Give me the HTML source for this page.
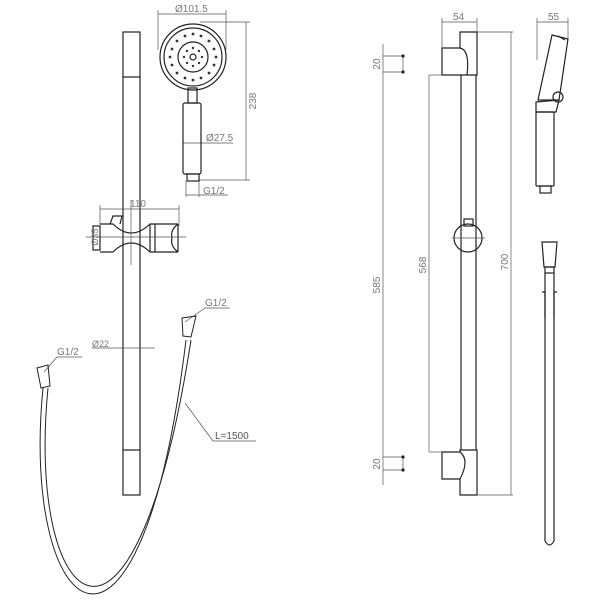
<!DOCTYPE html>
<html><head><style>html,body{margin:0;padding:0;background:#fff}svg{display:block}</style></head>
<body>
<svg width="600" height="600" viewBox="0 0 600 600" xmlns="http://www.w3.org/2000/svg" font-family="Liberation Sans, sans-serif">
<g fill="none" stroke="#222" stroke-width="1.2">
<rect x="123" y="32" width="17" height="45"/>
<line x1="123" y1="77" x2="123" y2="450"/><line x1="140" y1="77" x2="140" y2="450"/>
<rect x="123" y="450" width="17" height="45"/>
<rect x="93" y="226" width="7" height="24"/>
<path d="M100 224 H113 Q131 242 150 224 H178 M100 252 H113 Q131 234 150 252 H178"/>
<path d="M150 224 V252 M155 224 V252 M178 224 Q170 230 172 238 Q170 246 178 252 M178 224 V252"/>
<path d="M110 224 l3 -8 h9 l-2 8"/>
</g>
<g fill="none" stroke="#555" stroke-width="0.7">
<line x1="100" y1="209" x2="179" y2="209"/><line x1="100" y1="205" x2="100" y2="226"/><line x1="179" y1="205" x2="179" y2="226"/>
<line x1="86" y1="237" x2="186" y2="237"/>
<line x1="131" y1="200" x2="131" y2="265"/>
<line x1="92" y1="348" x2="155" y2="348"/>
<line x1="158" y1="14" x2="226" y2="14"/><line x1="158" y1="10" x2="158" y2="50"/><line x1="226" y1="10" x2="226" y2="50"/>
<line x1="200" y1="22" x2="250" y2="22"/><line x1="199" y1="180" x2="250" y2="180"/><line x1="246" y1="22" x2="246" y2="180"/>
<line x1="183" y1="143" x2="233" y2="143"/>
<line x1="186" y1="181" x2="186" y2="197"/><line x1="199" y1="181" x2="199" y2="197"/><line x1="186" y1="195" x2="228" y2="195"/>
<path d="M185 322 L205 308 H230"/><path d="M44 372 L57 357 H82"/><path d="M185 403 L213 441 H256"/>
</g>
<g fill="none" stroke="#222" stroke-width="1.2">
<circle cx="193" cy="57" r="33"/><circle cx="193" cy="57" r="29"/><circle cx="193" cy="57" r="15"/><circle cx="193" cy="57" r="3"/>
<rect x="188" y="88" width="9" height="15"/>
<rect x="183" y="103" width="18" height="71" rx="2"/>
<rect x="187" y="174" width="12" height="7"/>
</g>
<g fill="#333">
<circle cx="193" cy="34" r="1.4"/><circle cx="193" cy="80" r="1.4"/><circle cx="170" cy="57" r="1.4"/><circle cx="216" cy="57" r="1.4"/>
<circle cx="177" cy="41" r="1.4"/><circle cx="209" cy="41" r="1.4"/><circle cx="177" cy="73" r="1.4"/><circle cx="209" cy="73" r="1.4"/>
<circle cx="185" cy="36" r="1.4"/><circle cx="201" cy="36" r="1.4"/><circle cx="185" cy="78" r="1.4"/><circle cx="201" cy="78" r="1.4"/>
<circle cx="172" cy="49" r="1.4"/><circle cx="214" cy="49" r="1.4"/><circle cx="172" cy="65" r="1.4"/><circle cx="214" cy="65" r="1.4"/>
<circle cx="193" cy="48" r="1.2"/><circle cx="193" cy="66" r="1.2"/><circle cx="184" cy="57" r="1.2"/><circle cx="202" cy="57" r="1.2"/>
<circle cx="187" cy="51" r="1.2"/><circle cx="199" cy="51" r="1.2"/><circle cx="187" cy="63" r="1.2"/><circle cx="199" cy="63" r="1.2"/>
</g>
<g fill="none" stroke="#222" stroke-width="1">
<path d="M43 388 C20 620, 140 720, 186 340"/>
<path d="M48 388 C26 612, 134 708, 191 340"/>
<path d="M37 368 L48 365 L50 386 L41 388 Z"/>
<path d="M182 318 L196 316 L191 337 L183 336 Z"/>
</g>
<g fill="none" stroke="#222" stroke-width="1.2">
<path d="M442 48 H460 V32 H477 V75 H442 Z"/>
<path d="M460 48 Q470 50 467 75"/>
<line x1="461" y1="75" x2="461" y2="450"/><line x1="476" y1="75" x2="476" y2="450"/>
<path d="M442 452 H460 V450 H477 V495 H460 V479 H442 Z"/>
<path d="M460 452 Q470 460 460 479"/>
<circle cx="468" cy="238" r="14"/><rect x="464" y="219" width="9" height="7"/>
<path d="M552 35 L568 39 L559 100 L538 100 Z"/>
<path d="M558 36 L565 40" />
<circle cx="558" cy="97" r="5"/>
<path d="M536 102 L559 100 L556 112 L536 112 Z"/>
<rect x="536" y="112" width="18" height="74" rx="1"/>
<rect x="540" y="186" width="11" height="7"/>
<path d="M542 242 H557 L555 267 H544 Z"/>
<rect x="545" y="267" width="9" height="6"/>
<path d="M545 273 V541 Q549.5 549 554 541 V273"/>
<path d="M542 292 H545 V318 M557 292 H554 V318"/>
</g>
<g fill="none" stroke="#555" stroke-width="0.7">
<line x1="383" y1="44" x2="383" y2="485"/>
<line x1="383" y1="56" x2="403" y2="56"/><line x1="383" y1="72" x2="403" y2="72"/><line x1="403" y1="56" x2="403" y2="72"/>
<line x1="383" y1="457" x2="403" y2="457"/><line x1="383" y1="470" x2="403" y2="470"/><line x1="403" y1="457" x2="403" y2="470"/>
<line x1="429" y1="75" x2="442" y2="75"/><line x1="429" y1="75" x2="429" y2="452"/><line x1="429" y1="452" x2="442" y2="452"/>
<line x1="477" y1="32" x2="513" y2="32"/><line x1="511" y1="32" x2="511" y2="495"/><line x1="477" y1="495" x2="513" y2="495"/>
<line x1="442" y1="22" x2="477" y2="22"/><line x1="442" y1="18" x2="442" y2="48"/><line x1="477" y1="18" x2="477" y2="32"/>
<line x1="537" y1="22" x2="568" y2="22"/><line x1="537" y1="18" x2="537" y2="60"/><line x1="568" y1="18" x2="568" y2="38"/>
<line x1="452" y1="238" x2="485" y2="238"/>
</g>
<g fill="#222"><circle cx="403" cy="56" r="1.6"/><circle cx="403" cy="72" r="1.6"/><circle cx="403" cy="457" r="1.6"/><circle cx="403" cy="470" r="1.6"/></g>
<g fill="#777" font-size="10">
<text x="175" y="12">Ø101.5</text>
<text x="206" y="141">Ø27.5</text>
<text x="203" y="194">G1/2</text>
<text x="130" y="207">110</text>
<text x="92" y="347" font-size="9">Ø22</text>
<text x="205" y="306">G1/2</text>
<text x="57" y="355">G1/2</text>
<text x="215" y="439" fill="#555">L=1500</text>
<text x="453" y="20">54</text>
<text x="548" y="20">55</text>
<text transform="translate(256,101) rotate(-90)" text-anchor="middle">238</text>
<text transform="translate(98,237) rotate(-90)" text-anchor="middle" font-size="9">Ø35</text>
<text transform="translate(380,64) rotate(-90)" text-anchor="middle">20</text>
<text transform="translate(380,464) rotate(-90)" text-anchor="middle">20</text>
<text transform="translate(380,285) rotate(-90)" text-anchor="middle">585</text>
<text transform="translate(426,265) rotate(-90)" text-anchor="middle">568</text>
<text transform="translate(508,262) rotate(-90)" text-anchor="middle">700</text>
</g>
</svg>
</body></html>
